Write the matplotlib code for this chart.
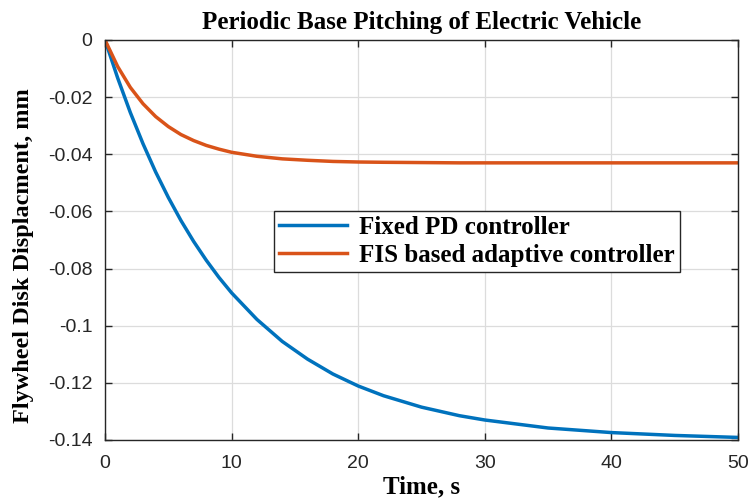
import matplotlib.pyplot as plt

# time samples, s
t = [0, 1, 2, 3, 4, 5, 6, 7, 8, 9, 10, 12, 14, 16, 18, 20, 22, 25, 28, 30, 35, 40, 45, 50]

# displacement, mm
fixed_pd = [0, -0.0133, -0.0254, -0.0363, -0.0462, -0.0551, -0.0632, -0.0705, -0.0771,
            -0.0831, -0.0885, -0.0978, -0.1055, -0.1117, -0.1169, -0.1211, -0.1245,
            -0.1285, -0.1315, -0.1330, -0.1358, -0.1374, -0.1384, -0.1391]
fis_adaptive = [0, -0.0093, -0.0166, -0.0223, -0.0268, -0.0303, -0.0331, -0.0352, -0.0369,
                -0.0382, -0.0393, -0.0407, -0.0416, -0.0421, -0.0425, -0.0427, -0.0428,
                -0.0429, -0.0430, -0.0430, -0.0430, -0.0430, -0.0430, -0.0430]

x_ticks = [0, 10, 20, 30, 40, 50]
y_ticks = [0, -0.02, -0.04, -0.06, -0.08, -0.1, -0.12, -0.14]
y_ticklabels = ["0", "-0.02", "-0.04", "-0.06", "-0.08", "-0.1", "-0.12", "-0.14"]

serif = ["Liberation Serif", "DejaVu Serif"]
plt.rcParams["font.family"] = ["Liberation Sans", "DejaVu Sans"]

fig, ax = plt.subplots(figsize=(7.48, 5.0), dpi=100)
fig.subplots_adjust(left=0.1404, right=0.9866, top=0.92, bottom=0.12)

ax.plot(t, fixed_pd, color="#0072BD", lw=2.5, label="Fixed PD controller")
ax.plot(t, fis_adaptive, color="#D95319", lw=2.5, label="FIS based adaptive controller")

ax.set_xlim(0, 50)
ax.set_ylim(-0.14, 0)
ax.set_xticks(x_ticks)
ax.set_yticks(y_ticks)
ax.set_yticklabels(y_ticklabels)
ax.tick_params(direction="in", top=True, right=True, labelsize=14, colors="#262626",
               length=5, width=1)
ax.tick_params(axis="x", pad=11)
ax.tick_params(axis="y", pad=9)
ax.grid(True, color="#dcdcdc", lw=0.9)
for s in ax.spines.values():
    s.set_color("#262626")
    s.set_linewidth(1.0)

ax.set_title("Periodic Base Pitching of Electric Vehicle", family=serif,
             fontweight="bold", fontsize=18, pad=8)
ax.set_xlabel("Time, s", family=serif, fontweight="bold", fontsize=18)
ax.xaxis.set_label_coords(0.5, -0.088)
ax.set_ylabel("Flywheel Disk Displacment, mm", family=serif, fontweight="bold",
              fontsize=17.5)
ax.yaxis.set_label_coords(-0.112, 0.46)

leg = ax.legend(loc="upper left", bbox_to_anchor=(0.267, 0.5725),
                prop={"family": serif, "weight": "bold", "size": 18},
                frameon=True, fancybox=False, framealpha=1, edgecolor="#262626",
                borderpad=0.2, handlelength=2.7, labelspacing=0.2, handletextpad=0.5,
                borderaxespad=0)
leg.get_frame().set_linewidth(1.0)

fig.savefig("out.png", dpi=100)
